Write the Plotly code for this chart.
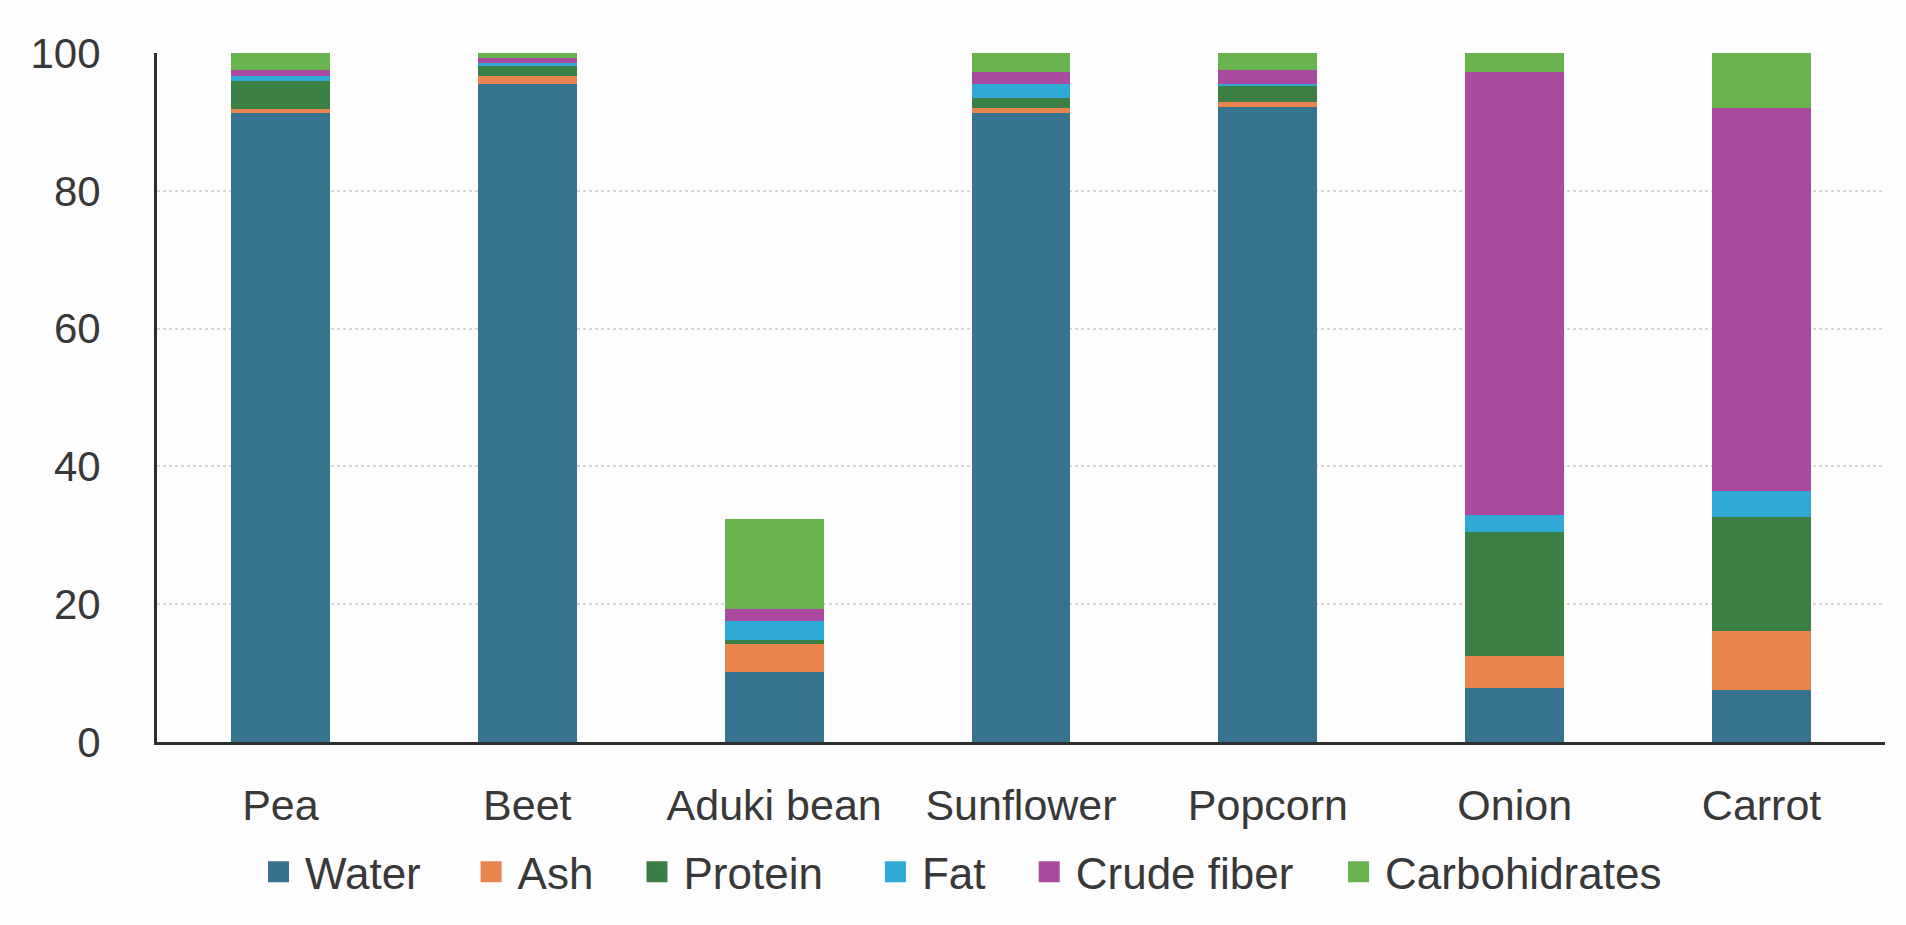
import plotly.graph_objects as go

# Proximate composition (%) of each plant
categories = ["Pea", "Beet", "Aduki bean", "Sunflower", "Popcorn", "Onion", "Carrot"]
water = [91.3, 95.5, 10.1, 91.3, 92.2, 7.9, 7.6]
ash = [0.6, 1.2, 4.1, 0.7, 0.7, 4.6, 8.5]
protein = [4.1, 1.4, 0.6, 1.4, 2.3, 18.0, 16.5]
fat = [0.7, 0.4, 2.7, 2.1, 0.3, 2.4, 3.8]
crude_fiber = [0.8, 0.8, 1.8, 1.7, 2.0, 64.3, 55.6]
carbohydrates = [2.5, 0.7, 13.0, 2.8, 2.5, 2.8, 8.0]

series_names = ["Water", "Ash", "Protein", "Fat", "Crude fiber", "Carbohidrates"]
series_values = [water, ash, protein, fat, crude_fiber, carbohydrates]
series_colors = ["#35738f", "#e9844f", "#3b7f44", "#31a9d7", "#aa4a9e", "#68b34d"]

y_ticks = [0, 20, 40, 60, 80, 100]

# horizontal placement of each legend entry (paper units)
legend_x = [0.055, 0.178, 0.274, 0.412, 0.501, 0.680]

FONT = "Liberation Sans, Arial, sans-serif"
TEXT_COLOR = "#383838"
BG = "#fdfdfd"

fig = go.Figure()

for i, (name, vals, col) in enumerate(zip(series_names, series_values, series_colors)):
    fig.add_trace(go.Bar(
        x=categories, y=vals, name=name,
        marker=dict(color=col, line=dict(width=0)),
        legendgroup=name, showlegend=False,
    ))
    # legend entry with a larger square swatch
    fig.add_trace(go.Scatter(
        x=[None], y=[None], mode="markers", name=name,
        marker=dict(symbol="square", size=16, color=col, line=dict(color=col, width=5)),
        legendgroup=name, showlegend=True,
        legend="legend" if i == 0 else f"legend{i + 1}",
    ))

layout_legends = {}
for i, lx in enumerate(legend_x):
    key = "legend" if i == 0 else f"legend{i + 1}"
    layout_legends[key] = dict(
        x=lx, y=-0.189, xanchor="left", yanchor="middle",
        orientation="h", bgcolor="rgba(0,0,0,0)", borderwidth=0,
        itemwidth=43, itemsizing="trace",
        font=dict(family=FONT, size=44, color=TEXT_COLOR),
    )

fig.update_layout(
    width=1906, height=925,
    barmode="stack", bargap=0.6,
    plot_bgcolor=BG, paper_bgcolor=BG,
    margin=dict(l=157, r=21, t=53, b=183),
    font=dict(family=FONT, size=43, color=TEXT_COLOR),
    **layout_legends,
)

fig.update_xaxes(
    showline=True, linecolor="#2e2e2e", linewidth=3,
    showgrid=False, ticks="", ticklabelstandoff=23,
    tickfont=dict(family=FONT, size=43, color=TEXT_COLOR),
)
fig.update_yaxes(
    range=[0, 100], tickvals=y_ticks,
    showline=True, linecolor="#2e2e2e", linewidth=3,
    showgrid=True, gridcolor="#d6d6d6", gridwidth=2, griddash="dot",
    zeroline=False, ticks="", ticklabelstandoff=45,
    tickfont=dict(family=FONT, size=42, color=TEXT_COLOR),
)

fig.write_html("out.html")
